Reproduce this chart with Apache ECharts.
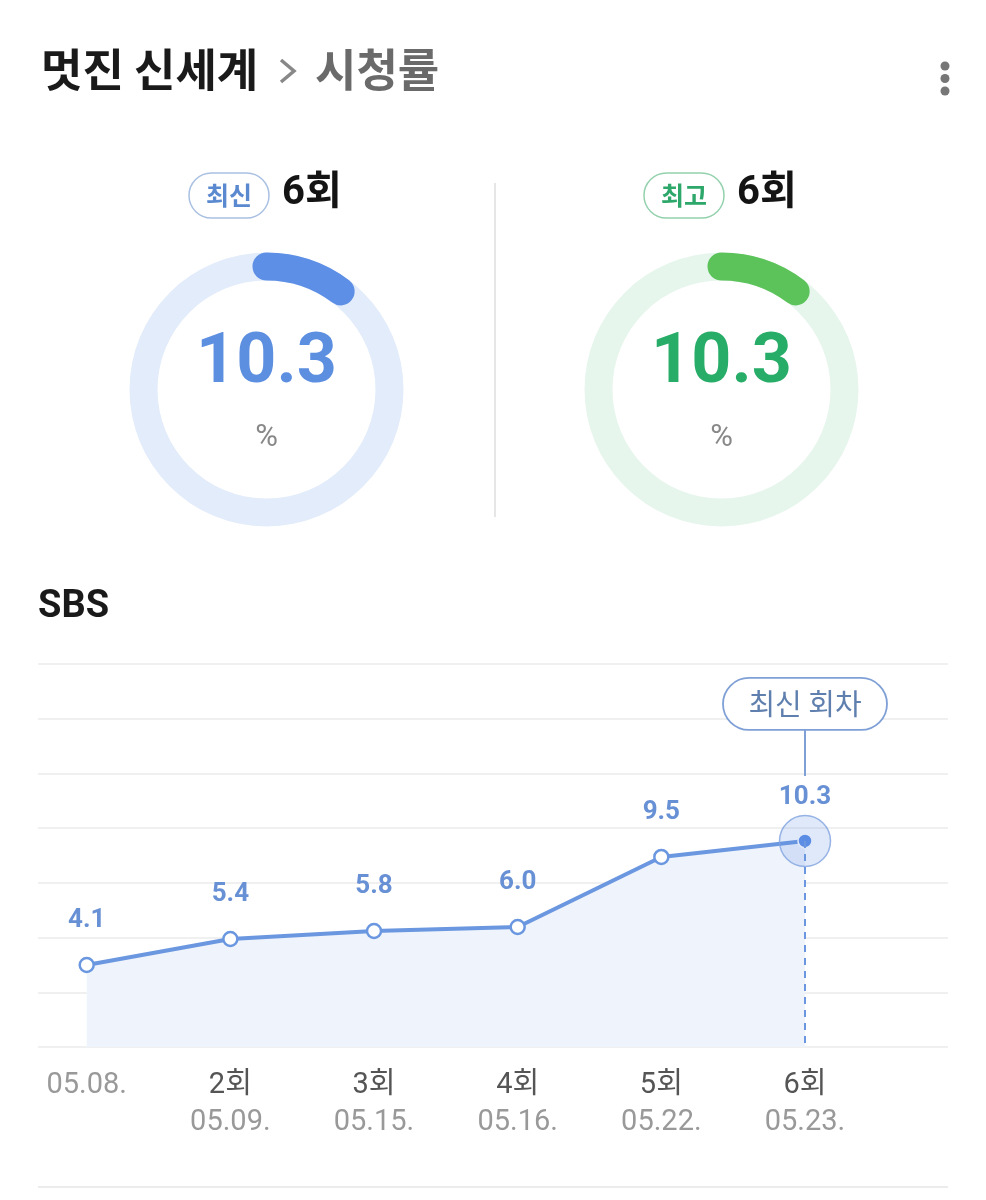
<!DOCTYPE html>
<html><head><meta charset="utf-8">
<script src="https://cdn.jsdelivr.net/npm/echarts@6/dist/echarts.min.js"></script>
<style>html,body{margin:0;padding:0;background:#fff}#c{width:986px;height:1200px}</style>
</head><body><div id="c"></div>
<script>
const showTitle = '멋진 신세계';
const pageTitle = '시청률';
const network = 'SBS';
const episodes = ['', '2회', '3회', '4회', '5회', '6회'];
const dates = ['05.08.', '05.09.', '05.15.', '05.16.', '05.22.', '05.23.'];
const ratings = [4.1, 5.4, 5.8, 6.0, 9.5, 10.3];
const latestBadge = '최신', latestEpisode = '6회', latestRating = 10.3;
const bestBadge = '최고', bestEpisode = '6회', bestRating = 10.3;
const calloutText = '최신 회차';
const gaugeMax = 100;
const yMax = 19.145, yInterval = 2.735;

const KR = "Roboto, 'Noto Sans CJK KR', sans-serif";
const BLUE = '#6a97df';
const chart = echarts.init(document.getElementById('c'), null, {renderer: 'canvas'});

function gauge(cx, val, ringColor, barColor, textColor) {
  const radius = 137, width = 28;
  return [
    {type: 'gauge', center: [cx, 389.5], radius: radius, startAngle: 90, endAngle: -270, min: 0, max: gaugeMax,
     axisLine: {lineStyle: {width: width, color: [[1, ringColor]]}}, progress: {show: false}, pointer: {show: false},
     axisTick: {show: false}, splitLine: {show: false}, axisLabel: {show: false}, detail: {show: false}, title: {show: false},
     data: [{value: 0}]},
    {type: 'gauge', center: [cx, 389.5], radius: radius, startAngle: 90, endAngle: -270,
     min: 0, max: gaugeMax,
     axisLine: {show: false, lineStyle: {width: width}}, progress: {show: true, width: width, roundCap: true, itemStyle: {color: barColor}},
     pointer: {show: false}, axisTick: {show: false}, splitLine: {show: false}, axisLabel: {show: false},
     detail: {offsetCenter: [0, -25], fontSize: 70, fontWeight: 'bold', fontFamily: 'Roboto', color: textColor,
              formatter: v => v.toFixed(1)},
     title: {offsetCenter: [0, 49], fontSize: 31, color: '#888', fontFamily: 'Roboto'},
     data: [{value: val, name: '%'}]}
  ];
}

const lastIdx = ratings.length - 1;
const lineData = ratings.map((v, i) => i === lastIdx
  ? {value: v, symbolSize: 14, itemStyle: {color: '#5b8ee6', borderColor: '#fff', borderWidth: 1.5}}
  : v);
const haloData = ratings.map((v, i) => i === lastIdx ? v : null);

const option = {
  animation: false,
  grid: [
    {left: 38, right: 38, top: 664, bottom: 153},
    {left: 86.7, right: 181, top: 664, bottom: 153}
  ],
  xAxis: [
    {gridIndex: 0, type: 'value', show: false, min: 0, max: 1},
    {gridIndex: 1, type: 'category', boundaryGap: false, data: dates.map((d, i) => i),
     axisLine: {show: false}, axisTick: {show: false},
     axisLabel: {margin: 20, interval: 0,
       formatter: (v) => { const i = +v; return episodes[i] ? '{ep|' + episodes[i] + '}\n{dt|' + dates[i] + '}' : '{dt|' + dates[i] + '}'; },
       rich: {ep: {fontSize: 29, color: '#555', lineHeight: 37, fontFamily: KR},
              dt: {fontSize: 29, color: '#999', lineHeight: 37, fontFamily: KR}}}}
  ],
  yAxis: [
    {gridIndex: 0, type: 'value', min: 0, max: yMax, interval: yInterval,
     axisLabel: {show: false}, axisLine: {show: false}, axisTick: {show: false},
     splitLine: {lineStyle: {color: '#ebebeb', width: 1.5}}},
    {gridIndex: 1, type: 'value', min: 0, max: yMax, interval: yInterval, show: false, splitLine: {show: false}}
  ],
  series: [
    ...gauge(266.5, latestRating, '#e3ecfa', '#5d8fe6', '#5d8fe0'),
    ...gauge(721.5, bestRating, '#e7f6ed', '#5bc35a', '#28ad68'),
    {type: 'line', xAxisIndex: 1, yAxisIndex: 1, data: lineData, z: 3,
     lineStyle: {width: 4, color: BLUE}, areaStyle: {color: '#eef3fc', opacity: 1},
     symbol: 'circle', symbolSize: 14, itemStyle: {color: '#fff', borderColor: BLUE, borderWidth: 2.5},
     label: {show: true, position: 'top', distance: 23, fontSize: 26, fontWeight: 'bold', color: '#6790d5',
             fontFamily: 'Roboto', formatter: p => p.value.toFixed(1)},
     markLine: {silent: true, symbol: 'none', label: {show: false},
       lineStyle: {type: [7, 6], color: BLUE, width: 2},
       data: [[{xAxis: lastIdx, yAxis: ratings[lastIdx]}, {xAxis: lastIdx, yAxis: 0}]]}},
    {type: 'scatter', xAxisIndex: 1, yAxisIndex: 1, data: haloData, z: 4, symbolSize: 51,
     itemStyle: {color: 'rgba(93,143,230,0.24)', borderColor: '#7fa3de', borderWidth: 1.5}}
  ],
  graphic: [
    {type: 'text', left: 41, top: 47, style: {text: showTitle, font: "bold 45px 'Noto Sans CJK KR'", fill: '#1a1a1a'}},
    {type: 'polyline', shape: {points: [[281, 60], [294, 71], [281, 82]]}, style: {stroke: '#888', lineWidth: 3.5, fill: null}},
    {type: 'text', left: 315, top: 47, style: {text: pageTitle, font: "bold 45px 'Noto Sans CJK KR'", fill: '#6a6a6a'}},
    {type: 'circle', shape: {cx: 945, cy: 66, r: 4.5}, style: {fill: '#777'}},
    {type: 'circle', shape: {cx: 945, cy: 78.5, r: 4.5}, style: {fill: '#777'}},
    {type: 'circle', shape: {cx: 945, cy: 91, r: 4.5}, style: {fill: '#777'}},
    {type: 'rect', shape: {x: 189, y: 173, width: 80, height: 45, r: 22.5}, style: {fill: '#fff', stroke: '#a9c0e2', lineWidth: 1.5}},
    {type: 'text', x: 229, y: 195, style: {text: latestBadge, font: "bold 25px 'Noto Sans CJK KR'", fill: '#5b89d0', align: 'center', verticalAlign: 'middle'}},
    {type: 'text', x: 282, y: 194, style: {text: latestEpisode, font: "bold 40px Roboto, 'Noto Sans CJK KR'", fill: '#141414', verticalAlign: 'middle'}},
    {type: 'rect', shape: {x: 644, y: 173, width: 80, height: 45, r: 22.5}, style: {fill: '#fff', stroke: '#93d1ad', lineWidth: 1.5}},
    {type: 'text', x: 684, y: 195, style: {text: bestBadge, font: "bold 25px 'Noto Sans CJK KR'", fill: '#2ea76a', align: 'center', verticalAlign: 'middle'}},
    {type: 'text', x: 737, y: 194, style: {text: bestEpisode, font: "bold 40px Roboto, 'Noto Sans CJK KR'", fill: '#141414', verticalAlign: 'middle'}},
    {type: 'line', shape: {x1: 495, y1: 183, x2: 495, y2: 517}, style: {stroke: '#e6e6e6', lineWidth: 2}},
    {type: 'text', x: 38, y: 607, style: {text: network, font: "bold 38px Roboto", fill: '#1a1a1a', verticalAlign: 'middle'}},
    {type: 'line', shape: {x1: 38, y1: 1187, x2: 948, y2: 1187}, style: {stroke: '#ececec', lineWidth: 2}}
  ]
};
chart.setOption(option);

const p = chart.convertToPixel({xAxisIndex: 1, yAxisIndex: 1}, [lastIdx, ratings[lastIdx]]);
chart.setOption({graphic: option.graphic.concat([
  {type: 'line', z: 10, shape: {x1: p[0], y1: p[1] - 111, x2: p[0], y2: p[1] - 65}, style: {stroke: '#7fa0d6', lineWidth: 2}},
  {type: 'rect', z: 10, shape: {x: p[0] - 82, y: p[1] - 163, width: 164, height: 52, r: 26}, style: {fill: '#fff', stroke: '#7fa0d6', lineWidth: 1.8}},
  {type: 'text', z: 11, x: p[0], y: p[1] - 137, style: {text: calloutText, font: "29px 'Noto Sans CJK KR'", fill: '#5f7fae', align: 'center', verticalAlign: 'middle'}}
])}, {replaceMerge: ['graphic']});
</script></body></html>
